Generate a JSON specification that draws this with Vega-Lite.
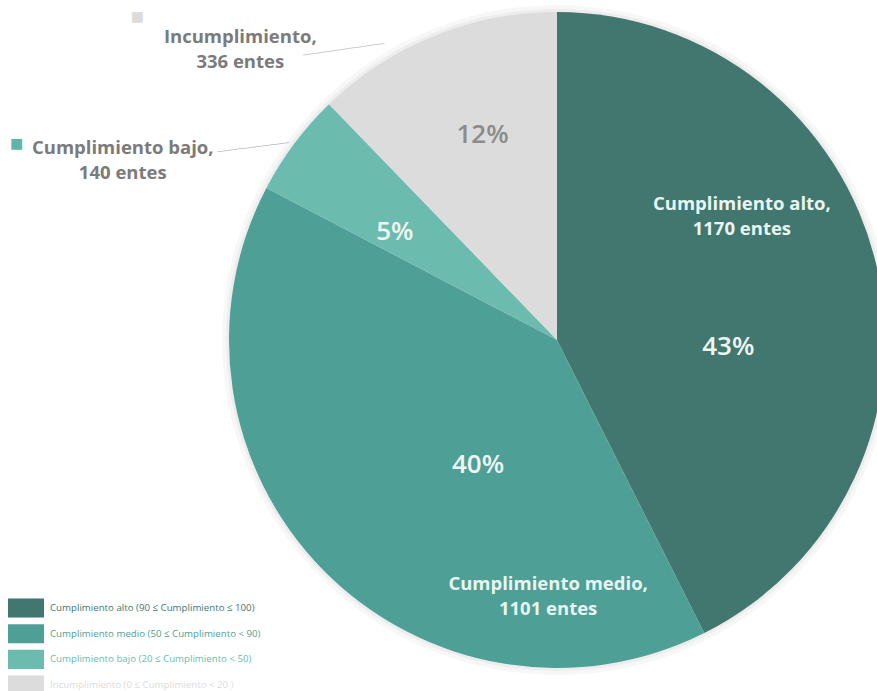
{
  "$schema": "https://vega.github.io/schema/vega-lite/v6.json",
  "autosize": "none",
  "width": 656,
  "height": 656,
  "padding": {"left": 229, "top": 12, "right": 0, "bottom": 23},
  "background": "#ffffff",
  "config": {"view": {"stroke": null}, "text": {"font": "Open Sans"}},
  "data": {"values": [
    {"categoria": "alto", "leyenda": "Cumplimiento alto (90 ≤ Cumplimiento ≤ 100)", "entes": 1170, "porcentaje": "43%", "etiqueta": "Cumplimiento alto,\n1170 entes", "orden": 1},
    {"categoria": "medio", "leyenda": "Cumplimiento medio (50 ≤ Cumplimiento < 90)", "entes": 1101, "porcentaje": "40%", "etiqueta": "Cumplimiento medio,\n1101 entes", "orden": 2},
    {"categoria": "bajo", "leyenda": "Cumplimiento bajo (20 ≤ Cumplimiento < 50)", "entes": 140, "porcentaje": "5%", "etiqueta": "Cumplimiento bajo,\n140 entes", "orden": 3},
    {"categoria": "incumplimiento", "leyenda": "Incumplimiento (0 ≤ Cumplimiento < 20 )", "entes": 336, "porcentaje": "12%", "etiqueta": "Incumplimiento,\n336 entes", "orden": 4}
  ]},
  "encoding": {
    "theta": {"field": "entes", "type": "quantitative", "stack": true},
    "order": {"field": "orden", "type": "quantitative"}
  },
  "layer": [
    {"mark": {"type": "arc", "radius": 335, "fill": "#000000", "opacity": 0.03}},
    {"mark": {"type": "arc", "radius": 331, "fill": "#000000", "opacity": 0.04}},
    {
      "mark": {"type": "arc", "radius": 328, "strokeWidth": 0},
      "encoding": {
        "color": {
          "field": "leyenda", "type": "nominal",
          "scale": {
            "domain": ["Cumplimiento alto (90 ≤ Cumplimiento ≤ 100)", "Cumplimiento medio (50 ≤ Cumplimiento < 90)", "Cumplimiento bajo (20 ≤ Cumplimiento < 50)", "Incumplimiento (0 ≤ Cumplimiento < 20 )"],
            "range": ["#41776f", "#4e9f96", "#6cbbaf", "#dcdcdc"]
          },
          "legend": {
            "title": null, "orient": "none", "legendX": -212, "legendY": 587, "direction": "vertical",
            "symbolType": "M-2,-1.06H2V1.06H-2Z", "symbolSize": 324, "symbolStrokeWidth": 0, "symbolOpacity": 1,
            "labelFont": "Open Sans", "labelFontSize": 9.7, "labelOffset": 15, "labelLimit": 400, "rowPadding": 5.7,
            "encode": {"labels": {"update": {"fill": {"scale": "color", "field": "value"}}}}
          }
        }
      }
    },
    {
      "mark": {"type": "text", "radius": 176, "dy": 48, "fontSize": 26, "fontWeight": 600, "fill": "#eef6f3", "align": "center", "baseline": "middle"},
      "encoding": {"text": {"condition": {"test": "datum.categoria === 'alto'", "field": "porcentaje"}, "value": ""}}
    },
    {
      "mark": {"type": "text", "radius": 150, "dx": 28, "dy": 20, "fontSize": 26, "fontWeight": 600, "fill": "#eef6f3", "align": "center", "baseline": "middle"},
      "encoding": {"text": {"condition": {"test": "datum.categoria === 'medio'", "field": "porcentaje"}, "value": ""}}
    },
    {
      "mark": {"type": "text", "radius": 195, "dx": -6, "dy": 9, "fontSize": 26, "fontWeight": 600, "fill": "#eef6f3", "align": "center", "baseline": "middle"},
      "encoding": {"text": {"condition": {"test": "datum.categoria === 'bajo'", "field": "porcentaje"}, "value": ""}}
    },
    {
      "mark": {"type": "text", "radius": 220, "dx": 8, "dy": -1, "fontSize": 26, "fontWeight": 600, "fill": "#8c8c8c", "align": "center", "baseline": "middle"},
      "encoding": {"text": {"condition": {"test": "datum.categoria === 'incumplimiento'", "field": "porcentaje"}, "value": ""}}
    },
    {
      "mark": {"type": "text", "radius": 190, "dy": -92, "fontSize": 18.5, "fontWeight": 700, "fill": "#e8f5f1", "align": "center", "baseline": "middle", "lineBreak": "\n", "lineHeight": 25},
      "encoding": {"text": {"condition": {"test": "datum.categoria === 'alto'", "field": "etiqueta"}, "value": ""}}
    },
    {
      "mark": {"type": "text", "radius": 300, "dx": 205, "dy": 34, "fontSize": 18.5, "fontWeight": 700, "fill": "#e8f5f1", "align": "center", "baseline": "middle", "lineBreak": "\n", "lineHeight": 25},
      "encoding": {"text": {"condition": {"test": "datum.categoria === 'medio'", "field": "etiqueta"}, "value": ""}}
    },
    {
      "mark": {"type": "text", "radius": 330, "dx": -170, "dy": 5.5, "fontSize": 18.5, "fontWeight": 700, "fill": "#7b7b7b", "align": "center", "baseline": "middle", "lineBreak": "\n", "lineHeight": 25},
      "encoding": {"text": {"condition": {"test": "datum.categoria === 'bajo'", "field": "etiqueta"}, "value": ""}}
    },
    {
      "mark": {"type": "text", "radius": 330, "dx": -193, "dy": 3, "fontSize": 18.5, "fontWeight": 700, "fill": "#7b7b7b", "align": "center", "baseline": "middle", "lineBreak": "\n", "lineHeight": 25},
      "encoding": {"text": {"condition": {"test": "datum.categoria === 'incumplimiento'", "field": "etiqueta"}, "value": ""}}
    },
    {
      "mark": {"type": "text", "radius": 330, "dx": -276, "dy": 2, "fontSize": 14, "font": "DejaVu Sans", "fill": "#5fb3a7", "align": "center", "baseline": "middle"},
      "encoding": {"text": {"condition": {"test": "datum.categoria === 'bajo'", "value": "■"}, "value": ""}}
    },
    {
      "mark": {"type": "text", "radius": 330, "dx": -296, "dy": -17, "fontSize": 14, "font": "DejaVu Sans", "fill": "#dcdcdc", "align": "center", "baseline": "middle"},
      "encoding": {"text": {"condition": {"test": "datum.categoria === 'incumplimiento'", "value": "■"}, "value": ""}}
    },
    {
      "mark": {"type": "text", "radius": 360, "dx": -18.6, "dy": 21.4, "angle": -7.3, "fontSize": 8, "font": "DejaVu Sans", "fill": "#b4b4b4", "align": "center", "baseline": "middle"},
      "encoding": {"text": {"condition": {"test": "datum.categoria === 'bajo'", "value": "───────────────"}, "value": ""}}
    },
    {
      "mark": {"type": "text", "radius": 330, "dx": -90.7, "dy": 2.8, "angle": -8.3, "fontSize": 8, "font": "DejaVu Sans", "fill": "#c4c4c4", "align": "center", "baseline": "middle"},
      "encoding": {"text": {"condition": {"test": "datum.categoria === 'incumplimiento'", "value": "─────────────────"}, "value": ""}}
    }
  ]
}
